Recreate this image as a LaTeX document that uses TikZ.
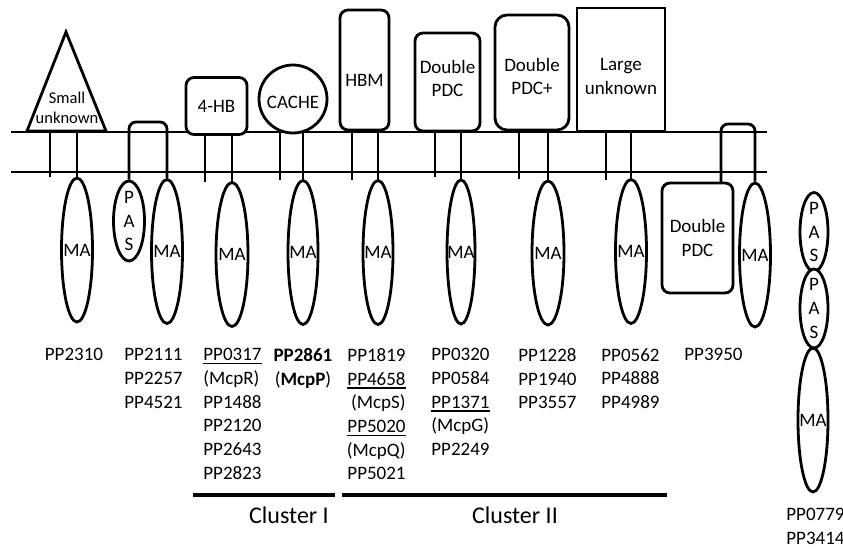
\documentclass[tikz,border=0pt]{standalone}
\usepackage{fontspec}
\setmainfont{Carlito}
\usetikzlibrary{shapes.geometric}
\newcommand{\uln}[1]{\setbox0\hbox{#1}\rlap{\rule[-3.6pt]{\wd0}{1.5pt}}\box0}
\begin{document}
\begin{tikzpicture}[x=1pt,y=-1pt,line width=2.8pt,
  ma/.style={draw, ellipse, inner sep=0pt, minimum width=31pt, minimum height=144pt, fill=white},
  pas/.style={draw, ellipse, inner sep=0pt, minimum width=30pt, minimum height=80pt, fill=white},
  box/.style={draw, rounded corners=8pt, inner sep=0pt, fill=white},
  txt/.style={font=\fontsize{19}{23.7}\selectfont, inner sep=0pt, align=center},
  lbl/.style={font=\fontsize{19}{23.7}\selectfont, inner sep=0pt},
  cl/.style={font=\fontsize{24}{29}\selectfont, inner sep=0pt, anchor=base},
  clline/.style={line width=3.2pt}
]
\useasboundingbox (0,0) rectangle (843,554);

% membrane
\coordinate (mTL) at (11,132); \coordinate (mTR) at (767,132);
\coordinate (mBL) at (11,172); \coordinate (mBR) at (767,172);
\draw (mTL) -- (mTR);
\draw (mBL) -- (mBR);

% triangle (small unknown)
\draw[fill=white] (27,131) -- (66,32) -- (106,131) -- cycle;
\node[font=\fontsize{16.5}{20}\selectfont, inner sep=0pt, align=center] (smallt) at (67,108) {Small\\unknown};

% extracellular boxes
\node[box, minimum width=61pt, minimum height=57pt, label={[txt]center:4-HB}] (hb4) at (216.5,106) {};
\node[draw, circle, fill=white, inner sep=0pt, minimum size=68pt, label={[txt, yshift=-3pt]center:CACHE}] (cache) at (293,99) {};
\node[box, minimum width=49pt, minimum height=120pt, label={[txt, yshift=-10pt]center:HBM}] (hbm) at (364.5,70) {};
\node[box, minimum width=65pt, minimum height=98pt, label={[txt, yshift=3.5pt]center:{Double\\PDC}}] (dpdc) at (447.5,82) {};
\node[box, rounded corners=12pt, minimum width=74pt, minimum height=115pt, label={[txt, yshift=-4pt]center:{Double\\PDC+}}] (dpdcp) at (532,72.5) {};
\node[draw, fill=white, inner sep=0pt, minimum width=88pt, minimum height=123pt, label={[txt, yshift=-7pt]center:{Large\\unknown}}] (large) at (621,69.5) {};

% cytoplasmic domains
\node[ma, label={[txt]center:MA}] (ma1) at (77,250) {};
\node[pas, minimum width=31pt, label={[txt]center:{P\\A\\S}}] (pas1) at (129,221) {};
\node[ma, label={[txt]center:MA}] (ma2) at (167,251.5) {};
\node[ma, minimum width=32pt, label={[txt]center:MA}] (ma3) at (232,254.5) {};
\node[ma, minimum width=30pt, label={[txt]center:MA}] (ma4) at (303,252.5) {};
\node[ma, minimum width=30pt, label={[txt]center:MA}] (ma5) at (378,252.5) {};
\node[ma, minimum width=28pt, label={[txt]center:MA}] (ma6) at (461,252) {};
\node[ma, minimum width=32pt, label={[txt]center:MA}] (ma7) at (548,253) {};
\node[ma, label={[txt]center:MA}] (ma8) at (631,251.5) {};
\node[box, minimum width=71pt, minimum height=110pt, label={[txt]center:{Double\\PDC}}] (pdc2) at (697.5,238) {};
\node[ma, label={[txt]center:MA}] (ma9) at (755,255) {};

% right column (cytoplasmic only)
\node[pas, minimum width=28pt, minimum height=79pt, label={[txt]center:{P\\A\\S}}] (pasA) at (814,232) {};
\node[pas, minimum width=28pt, minimum height=79pt, label={[txt]center:{P\\A\\S}}] (pasB) at (814,308.5) {};
\node[ma, minimum width=30pt, label={[txt]center:MA}] (ma10) at (813,420) {};

% transmembrane sticks (left, free ends)
\coordinate (s1) at (50,177);
\coordinate (s3) at (205,182);
\coordinate (s4) at (280,180);
\coordinate (s5) at (352,180);
\coordinate (s6) at (435,177);
\coordinate (s7) at (519,179);
\coordinate (s8) at (606,180);
\draw (s1) -- (s1 |- mTL);
\draw (s3) -- (s3 |- hb4.south);
\draw (s4) -- (s4 |- mTL);
\draw (s5) -- (s5 |- hbm.south);
\draw (s6) -- (s6 |- dpdc.south);
\draw (s7) -- (s7 |- dpdcp.south);
\draw (s8) -- (s8 |- large.south);

% sticks to MA domains
\draw (ma1.north) -- (ma1.north |- mTL);
\draw (ma3.north) -- (ma3.north |- hb4.south);
\draw (ma4.north) -- (ma4.north |- mTL);
\draw (ma5.north) -- (ma5.north |- hbm.south);
\draw (ma6.north) -- (ma6.north |- dpdc.south);
\draw (ma7.north) -- (ma7.north |- dpdcp.south);
\draw (ma8.north) -- (ma8.north |- large.south);

% loops
\coordinate (l1) at (148,122);
\draw[rounded corners=7pt] (pas1.north) |- (l1) -| (ma2.north);
\coordinate (l2L) at (721,183);
\coordinate (l2) at (737,124);
\draw[rounded corners=7pt] (l2L) |- (l2) -| (ma9.north);

% labels
\node[lbl, anchor=north] (c1) at (74,347) {PP2310};
\node[lbl, anchor=north west, align=left] (c2) at (123,347) {PP2111\\PP2257\\PP4521};
\node[lbl, anchor=north west, align=left] (c3) at (202,347) {\uln{PP0317}\\(McpR)\\PP1488\\PP2120\\PP2643\\PP2823};
\node[lbl, anchor=north, align=center] (c4) at (303,347) {\textbf{PP2861}\\(\textbf{McpP})};
\node[lbl, anchor=north east, align=right] (c5) at (407,347) {PP1819\\\uln{PP4658}\\(McpS)\\\uln{PP5020}\\(McpQ)\\PP5021};
\node[lbl, anchor=north west, align=left] (c6) at (430,347) {PP0320\\PP0584\\\uln{PP1371}\\(McpG)\\PP2249};
\node[lbl, anchor=north west, align=left] (c7) at (517,347) {PP1228\\PP1940\\PP3557};
\node[lbl, anchor=north west, align=left] (c8) at (600,347) {PP0562\\PP4888\\PP4989};
\node[lbl, anchor=north west, align=left] (c9) at (683,347) {PP3950};
\node[lbl, anchor=north west, align=left] (c10) at (785,507) {PP0779\\PP3414};

% clusters
\coordinate (k1a) at (193,495); \coordinate (k1b) at (335,495);
\coordinate (k2a) at (342,495); \coordinate (k2b) at (667,495);
\draw[clline] (k1a) -- (k1b);
\draw[clline] (k2a) -- (k2b);
\node[cl] (cI) at (289,523) {Cluster I};
\node[cl] (cII) at (515,523) {Cluster II};
\end{tikzpicture}
\end{document}
